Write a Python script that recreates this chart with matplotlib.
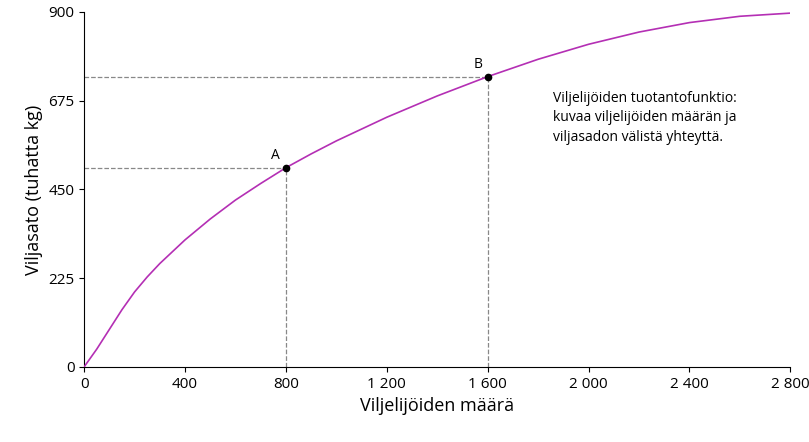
import matplotlib.pyplot as plt

plt.rcParams['font.family'] = ['Open Sans', 'DejaVu Sans']

# production function
workers = [0, 50, 100, 150, 200, 250, 300, 400, 500, 600, 700, 800, 900, 1000, 1200, 1400,
           1600, 1800, 2000, 2200, 2400, 2600, 2800]
grain = [0, 45, 95, 145, 190, 228, 262, 322, 375, 423, 465, 505, 540, 573, 633, 687,
         736, 780, 818, 849, 873, 889, 897]

pt_labels = ["A", "B"]
pt_x = [800, 1600]
pt_y = [505, 736]

xticks = [0, 400, 800, 1200, 1600, 2000, 2400, 2800]
xticklabels = ["0", "400", "800", "1 200", "1 600", "2 000", "2 400", "2 800"]
yticks = [0, 225, 450, 675, 900]

fig = plt.figure(figsize=(8.09, 4.42), dpi=100)
ax = fig.add_axes([0.104, 0.17, 0.873, 0.803])

ax.plot(workers, grain, color="#b42fb4", lw=1.2, zorder=3)
for lab, x, y in zip(pt_labels, pt_x, pt_y):
    ax.plot([0, x], [y, y], ls="--", color="#888888", lw=0.9)
    ax.plot([x, x], [0, y], ls="--", color="#888888", lw=0.9)
    ax.plot(x, y, "o", color="black", ms=4.5, zorder=4)
    ax.text(x - 40, y + 12, lab, ha="center", va="bottom", fontsize=10)

ax.text(1860, 700, "Viljelijöiden tuotantofunktio:\nkuvaa viljelijöiden määrän ja\nviljasadon välistä yhteyttä.",
        ha="left", va="top", fontsize=10, linespacing=1.4)

ax.set_xlim(0, 2800)
ax.set_ylim(0, 900)
ax.set_xticks(xticks)
ax.set_xticklabels(xticklabels)
ax.set_yticks(yticks)
ax.tick_params(labelsize=11)
for s in ["top", "right"]:
    ax.spines[s].set_visible(False)
ax.set_xlabel("Viljelijöiden määrä", fontsize=13)
ax.set_ylabel("Viljasato (tuhatta kg)", fontsize=13)

fig.savefig("out.png")
